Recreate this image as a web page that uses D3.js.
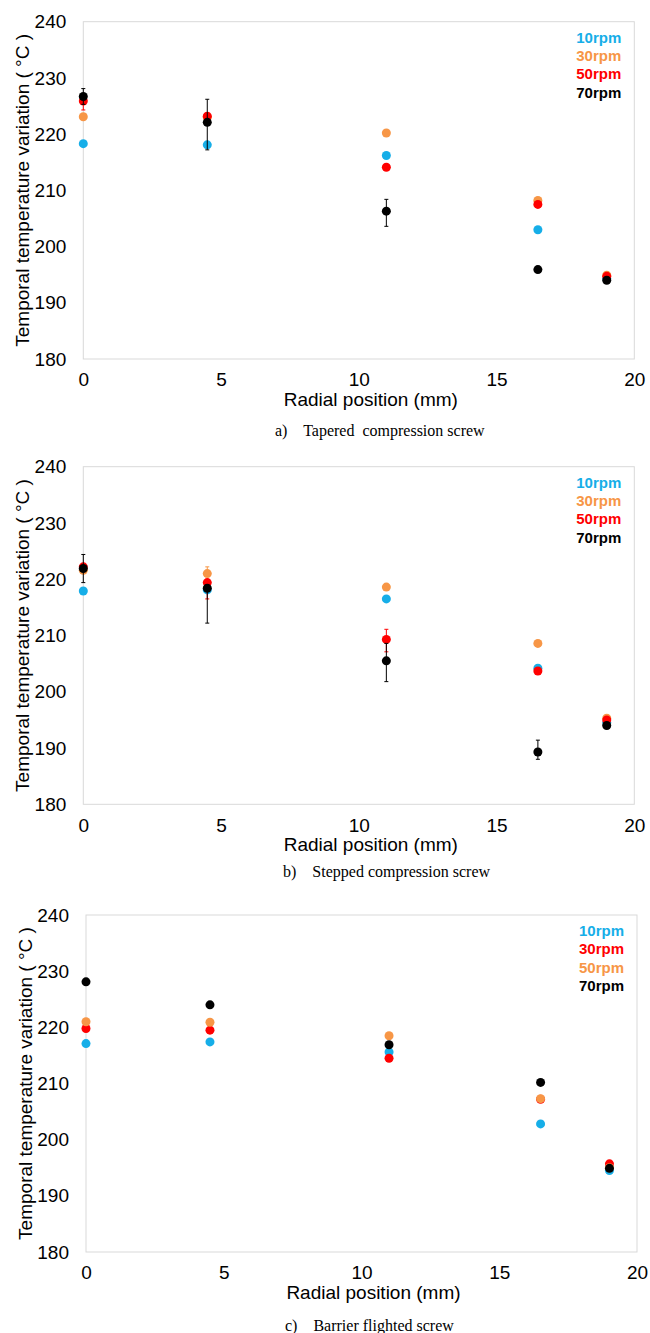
<!DOCTYPE html>
<html><head><meta charset="utf-8">
<script src="https://cdn.jsdelivr.net/npm/d3@7"></script>
<style>body{margin:0;background:#fff}svg{display:block}</style>
</head><body><svg id="chart" width="650" height="1333"></svg>
<script>
// ---- data ----
const positions = [0, 4.5, 11, 16.5, 19];
const xTicks = [0, 5, 10, 15, 20];
const yTicks = [180, 190, 200, 210, 220, 230, 240];

// panel a) Tapered compression screw
const aLabels = ["10rpm", "30rpm", "50rpm", "70rpm"];
const a10 = [218.3, 218.1, 216.2, 203.0, 194.3];
const a30 = [223.1, 223.0, 220.2, 208.2, 194.9];
const a50 = [225.9, 223.2, 214.1, 207.5, 194.7];
const a70 = [226.7, 222.1, 206.3, 195.9, 194.0];
const a50ErrUp = [0, 0, 0, 0, 0];
const a50ErrDn = [1.6, 0, 0, 0, 0];
const a70ErrUp = [1.4, 4.1, 2.1, 0, 0];
const a70ErrDn = [1.4, 4.9, 2.7, 0, 0];

// panel b) Stepped compression screw
const bLabels = ["10rpm", "30rpm", "50rpm", "70rpm"];
const b10 = [217.9, 218.1, 216.5, 204.2, 194.5];
const b30 = [221.6, 221.0, 218.6, 208.6, 195.3];
const b50 = [222.2, 219.4, 209.3, 203.7, 195.0];
const b70 = [221.9, 218.4, 205.5, 189.3, 194.0];
const b30ErrUp = [0, 1.2, 0, 0, 0];
const b30ErrDn = [0, 0, 0, 0, 0];
const b50ErrUp = [0, 0, 1.8, 0, 0];
const b50ErrDn = [0, 2.9, 2.2, 0, 0];
const b70ErrUp = [2.5, 0, 3.1, 2.1, 0];
const b70ErrDn = [2.5, 6.2, 3.7, 1.3, 0];

// panel c) Barrier flighted screw
const cLabels = ["10rpm", "30rpm", "50rpm", "70rpm"];
const c10 = [217.1, 217.4, 215.6, 202.8, 194.5];
const c30 = [219.8, 219.5, 214.5, 207.2, 195.7];
const c50 = [221.0, 220.9, 218.5, 207.3, 195.0];
const c70 = [228.1, 224.0, 216.9, 210.2, 194.9];

const captions = ["a)    Tapered  compression screw", "b)    Stepped compression screw", "c)    Barrier flighted screw"];
const xTitle = "Radial position (mm)";
const yTitle = "Temporal temperature variation ( °C )";

// ---- styling / layout ----
const BLUE = "#16aee8", ORANGE = "#f79646", RED = "#ff0000", BLACK = "#000000";
const zeros = [0,0,0,0,0];
const panels = [
  { box:{l:83.3, r:634.3, t:21.7, b:359}, capX:275, capDy:71, labels:aLabels,
    series:[
      {v:a10, c:BLUE, up:zeros, dn:zeros},
      {v:a30, c:ORANGE, up:zeros, dn:zeros},
      {v:a50, c:RED, up:a50ErrUp, dn:a50ErrDn},
      {v:a70, c:BLACK, up:a70ErrUp, dn:a70ErrDn}],
    legendColors:[BLUE, ORANGE, RED, BLACK], yTitleX:22.5 },
  { box:{l:83.3, r:634.3, t:466.7, b:804.3}, capX:283, capDy:67.5, labels:bLabels,
    series:[
      {v:b10, c:BLUE, up:zeros, dn:zeros},
      {v:b30, c:ORANGE, up:b30ErrUp, dn:b30ErrDn},
      {v:b50, c:RED, up:b50ErrUp, dn:b50ErrDn},
      {v:b70, c:BLACK, up:b70ErrUp, dn:b70ErrDn}],
    legendColors:[BLUE, ORANGE, RED, BLACK], yTitleX:22.5 },
  { box:{l:86, r:637, t:915, b:1252}, capX:285, capDy:73, labels:cLabels,
    series:[
      {v:c10, c:BLUE, up:zeros, dn:zeros},
      {v:c30, c:RED, up:zeros, dn:zeros},
      {v:c50, c:ORANGE, up:zeros, dn:zeros},
      {v:c70, c:BLACK, up:zeros, dn:zeros}],
    legendColors:[BLUE, RED, ORANGE, BLACK], yTitleX:25 }
];

const svg = d3.select("#chart");
const SANS = "'Liberation Sans', Arial, sans-serif";
const SERIF = "'Liberation Serif', 'Times New Roman', serif";

panels.forEach((p, pi) => {
  const B = p.box;
  const x = d3.scaleLinear().domain([0, 20]).range([B.l, B.r]);
  const y = d3.scaleLinear().domain([180, 240]).range([B.b, B.t]);
  const g = svg.append("g");

  // plot border
  g.append("rect").attr("x", B.l).attr("y", B.t).attr("width", B.r - B.l).attr("height", B.b - B.t)
    .attr("fill", "none").attr("stroke", "#d9d9d9").attr("stroke-width", 1);

  // y axis
  const ya = g.append("g").attr("transform", `translate(${B.l},0)`)
    .call(d3.axisLeft(y).tickValues(yTicks).tickSize(0).tickPadding(17).tickFormat(d3.format("d")));
  ya.select(".domain").remove();
  ya.selectAll("text").attr("font-family", SANS).attr("font-size", 19).attr("fill", "#000");

  // x axis
  const xa = g.append("g").attr("transform", `translate(0,${B.b})`)
    .call(d3.axisBottom(x).tickValues(xTicks).tickSize(0).tickPadding(14).tickFormat(d3.format("d")));
  xa.select(".domain").remove();
  xa.selectAll("text").attr("font-family", SANS).attr("font-size", 19).attr("fill", "#000");

  // axis titles
  g.append("text").attr("x", (B.l + B.r) / 2 + 12).attr("y", B.b + 40)
    .attr("text-anchor", "middle").attr("dominant-baseline", "central")
    .attr("font-family", SANS).attr("font-size", 19).text(xTitle);
  g.append("text").attr("transform", `translate(${p.yTitleX},${(B.t + B.b) / 2}) rotate(-90)`)
    .attr("text-anchor", "middle").attr("dominant-baseline", "central")
    .attr("font-family", SANS).attr("font-size", 19).text(yTitle);

  // caption
  g.append("text").attr("x", p.capX).attr("y", B.b + p.capDy)
    .attr("dominant-baseline", "central").attr("xml:space", "preserve")
    .style("white-space", "pre")
    .attr("font-family", SERIF).attr("font-size", 16).text(captions[pi]);

  // series
  p.series.forEach(s => {
    const sg = g.append("g");
    positions.forEach((pos, i) => {
      const v = s.v[i], up = s.up[i], dn = s.dn[i];
      if (up > 0 || dn > 0) {
        const cx = x(pos);
        const y1 = y(v + up), y2 = y(v - dn);
        sg.append("line").attr("x1", cx).attr("x2", cx).attr("y1", y1).attr("y2", y2)
          .attr("stroke", s.c).attr("stroke-width", 1);
        if (up > 0) sg.append("line").attr("x1", cx - 2).attr("x2", cx + 2).attr("y1", y1).attr("y2", y1)
          .attr("stroke", s.c).attr("stroke-width", 1);
        if (dn > 0) sg.append("line").attr("x1", cx - 2).attr("x2", cx + 2).attr("y1", y2).attr("y2", y2)
          .attr("stroke", s.c).attr("stroke-width", 1);
      }
    });
    sg.selectAll("circle").data(positions).join("circle")
      .attr("cx", d => x(d)).attr("cy", (d, i) => y(s.v[i])).attr("r", 4.5)
      .attr("fill", s.c);
  });

  // legend
  p.labels.forEach((lab, i) => {
    g.append("text").attr("x", B.r - 13).attr("y", B.t + 15.5 + i * 18.3)
      .attr("text-anchor", "end").attr("dominant-baseline", "central")
      .attr("font-family", SANS).attr("font-weight", "bold").attr("font-size", 15)
      .attr("fill", p.legendColors[i]).text(lab);
  });
});
</script></body></html>
